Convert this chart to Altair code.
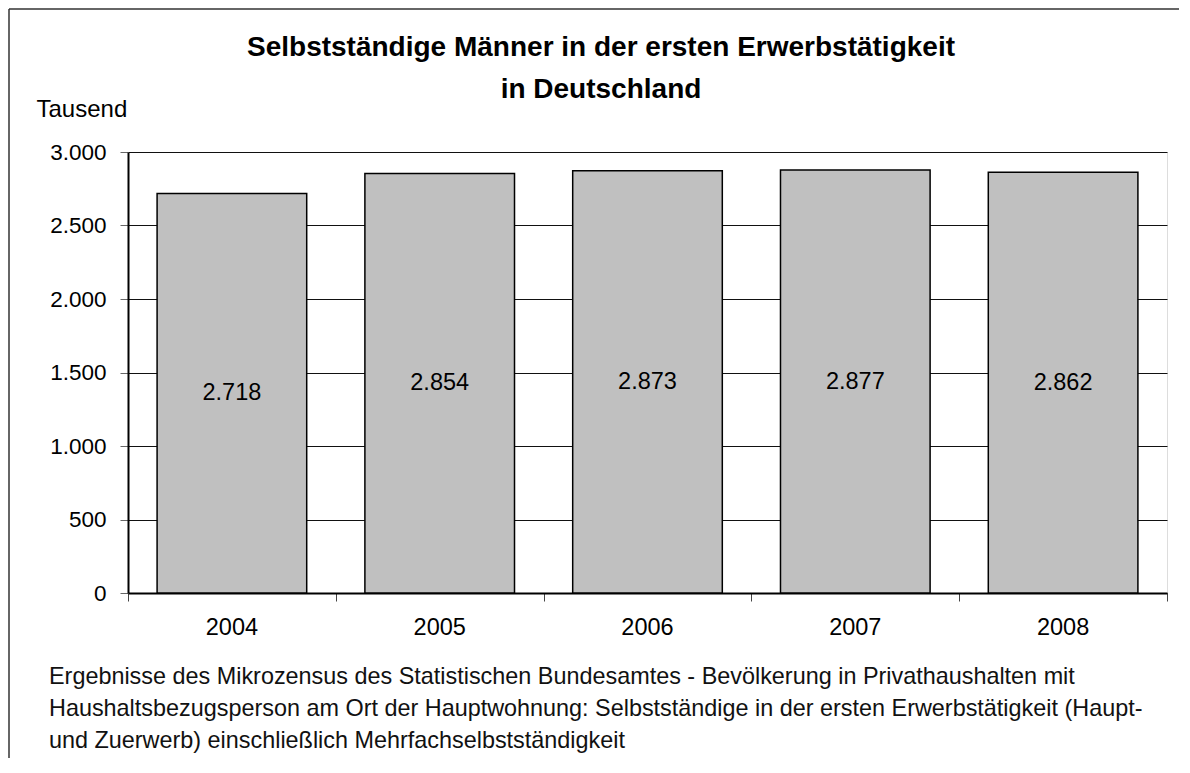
import altair as alt
import pandas as pd

years = ["2004", "2005", "2006", "2007", "2008"]
values = [2718, 2854, 2873, 2877, 2862]
labels = [f"{v:,}".replace(",", ".") for v in values]
y_ticks = [0, 500, 1000, 1500, 2000, 2500, 3000]
x_bounds = [0, 1, 2, 3, 4, 5]
title_lines = ["Selbstständige Männer in der ersten Erwerbstätigkeit", "in Deutschland"]
y_unit = "Tausend"
note_lines = [
    "Ergebnisse des Mikrozensus des Statistischen Bundesamtes - Bevölkerung in Privathaushalten mit",
    "Haushaltsbezugsperson am Ort der Hauptwohnung: Selbstständige in der ersten Erwerbstätigkeit (Haupt-",
    "und Zuerwerb) einschließlich Mehrfachselbstständigkeit",
]

df = pd.DataFrame({"Jahr": years, "Wert": values, "Label": labels})
df["Mitte"] = df["Wert"] / 2

FONT = "Liberation Sans"
W, H = 1039, 441
PL, PT = 120, 144

x_band = alt.X(
    "Jahr:N", sort=years,
    scale=alt.Scale(paddingInner=0, paddingOuter=0),
    axis=alt.Axis(title=None, labelAngle=0, ticks=False, domain=False,
                  labelPadding=22, labelFontSize=23.5, labelFont=FONT,
                  labelColor="black", orient="bottom", grid=False),
)
y_enc = alt.Y(
    "Wert:Q", scale=alt.Scale(domain=[0, 3000], nice=False),
    axis=alt.Axis(values=y_ticks, title=y_unit, titleAngle=0, titleX=-92, titleY=-36,
                  titleAlign="left", titleBaseline="alphabetic", titleFont=FONT,
                  titleFontSize=24, titleFontWeight="normal", titleColor="black",
                  labelExpr="replace(format(datum.value, ',d'), ',', '.')",
                  labelFont=FONT, labelFontSize=22.5, labelColor="black",
                  tickSize=8, tickColor="#666", labelPadding=14,
                  grid=True, gridColor="#111", gridWidth=1,
                  domainColor="black", domainWidth=2),
)

bars = alt.Chart(df).mark_bar(
    width=alt.RelativeBandSize(0.72), fill="#C0C0C0", stroke="black", strokeWidth=1.5
).encode(x=x_band, y=y_enc)

vals = alt.Chart(df).mark_text(fontSize=23.5, font=FONT, baseline="middle", color="black").encode(
    x=alt.X("Jahr:N", sort=years), y=alt.Y("Mitte:Q"), text="Label:N"
)

band_layer = alt.layer(bars, vals)

ticks_df = pd.DataFrame({"pos": x_bounds})
ticks_layer = alt.Chart(ticks_df).mark_point(opacity=0).encode(
    x=alt.X("pos:Q", scale=alt.Scale(domain=[0, 5], nice=False, zero=False),
            axis=alt.Axis(values=x_bounds, labels=False, title=None, tickSize=8,
                          tickColor="#444", domainColor="black", domainWidth=2,
                          orient="bottom", grid=False)),
)

one = alt.Data(values=[{}])
title_text = alt.Chart(one).mark_text(
    text=title_lines, font=FONT, fontSize=28, fontWeight="bold", align="center",
    baseline="alphabetic", lineHeight=42, color="black"
).encode(x=alt.value(473), y=alt.value(-96))

note_text = alt.Chart(one).mark_text(
    text=note_lines, font=FONT, fontSize=23.4, align="left",
    baseline="alphabetic", lineHeight=32, color="#111"
).encode(x=alt.value(-79), y=alt.value(532))

border_left = alt.Chart(one).mark_rule(color="#333", strokeWidth=1.5).encode(
    x=alt.value(-PL + 1), y=alt.value(-PT + 1), y2=alt.value(H + 200)
)
border_top = alt.Chart(one).mark_rule(color="#333", strokeWidth=1.5).encode(
    x=alt.value(-PL + 1), x2=alt.value(W + 100), y=alt.value(-PT + 1)
)

chart = alt.layer(
    band_layer, ticks_layer, title_text, note_text, border_left, border_top
).resolve_scale(x="independent").properties(
    width=W, height=H,
    autosize=alt.AutoSizeParams(type="none"),
    padding={"left": PL, "top": PT, "right": 12, "bottom": 165},
).configure_view(stroke="black", strokeWidth=1).configure(background="white")

chart.save("out.html", embed_options={"renderer": "svg", "actions": False})
